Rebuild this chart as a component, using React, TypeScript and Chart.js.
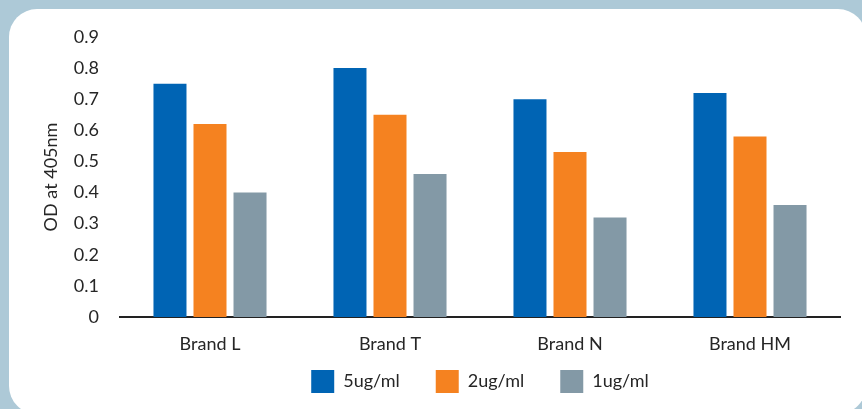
import React, { useEffect, useRef } from "react";
import { Chart, registerables } from "chart.js";

Chart.register(...registerables);

const categories = ["Brand L", "Brand T", "Brand N", "Brand HM"];
const seriesLabels = ["5ug/ml", "2ug/ml", "1ug/ml"];
const values5 = [0.75, 0.8, 0.7, 0.72];
const values2 = [0.62, 0.65, 0.53, 0.58];
const values1 = [0.4, 0.46, 0.32, 0.36];
const seriesColors = ["#0064b4", "#f58220", "#8399a6"];
const yTitle = "OD at 405nm";

const FONT = "Lato";
const TEXT = "#262626";

const LEGEND_HEIGHT = 46;
const LEGEND_RAISE = 23;

const legendPlacement = {
  id: "legendPlacement",
  beforeLayout(chart: any) {
    const lg = chart.legend;
    if (lg && !lg.__wrapped) {
      const f = lg.fit;
      lg.fit = function (this: any) {
        f.call(this);
        this.height = LEGEND_HEIGHT;
      };
      lg.__wrapped = true;
    }
  },
  afterLayout(chart: any) {
    const lg = chart.legend;
    const ca = chart.chartArea;
    if (!lg || !ca) return;
    const d = (ca.left + ca.right) / 2 - (lg.left + lg.right) / 2;
    lg.left += d;
    lg.right += d;
    lg.top -= LEGEND_RAISE;
    lg.height = lg.bottom - lg.top;
  },
};

export default function App() {
  const ref = useRef<HTMLCanvasElement | null>(null);
  useEffect(() => {
    if (!ref.current) return;
    const data = [values5, values2, values1];
    const chart = new Chart(ref.current, {
      type: "bar",
      data: {
        labels: categories,
        datasets: seriesLabels.map((l, i) => ({
          label: l,
          data: data[i],
          backgroundColor: seriesColors[i],
          borderWidth: 0,
          categoryPercentage: 0.667,
          barPercentage: 0.825,
        })),
      },
      plugins: [legendPlacement],
      options: {
        animation: false,
        responsive: false,
        layout: { padding: { left: 0, right: 22, top: 37, bottom: 6 } },
        plugins: {
          tooltip: { enabled: false },
          legend: {
            position: "bottom",
            labels: {
              boxWidth: 23,
              boxHeight: 23,
              padding: 36,
              color: TEXT,
              font: { family: FONT, size: 18 },
            },
          },
        },
        scales: {
          x: {
            grid: { display: false, drawTicks: false },
            border: { display: true, color: "#222222", width: 2 },
            ticks: { color: TEXT, font: { family: FONT, size: 18 }, padding: 16 },
            afterFit: (s: any) => {
              s.height = 40;
            },
          },
          y: {
            min: 0,
            max: 0.9,
            grid: { display: false, drawTicks: false },
            border: { display: false },
            ticks: {
              stepSize: 0.1,
              color: TEXT,
              font: { family: FONT, size: 18 },
              padding: 21,
              callback: (v: any) => String(Number(Number(v).toFixed(1))),
            },
            title: {
              display: true,
              text: yTitle,
              color: TEXT,
              font: { family: FONT, size: 18 },
              padding: { top: 40, bottom: 0 },
            },
            afterFit: (s: any) => {
              s.width = 120;
            },
          },
        },
      },
    });
    return () => chart.destroy();
  }, []);
  return (
    <div style={{ position: "fixed", left: 0, top: 0, width: 862, height: 409, background: "#adc9d7", overflow: "hidden" }}>
      <div style={{ position: "absolute", left: 9, top: 9, width: 857, height: 405, borderRadius: 28, background: "#ffffff" }} />
      <canvas ref={ref} width={862} height={409} style={{ position: "absolute", left: 0, top: 0, width: 862, height: 409 }} />
    </div>
  );
}
